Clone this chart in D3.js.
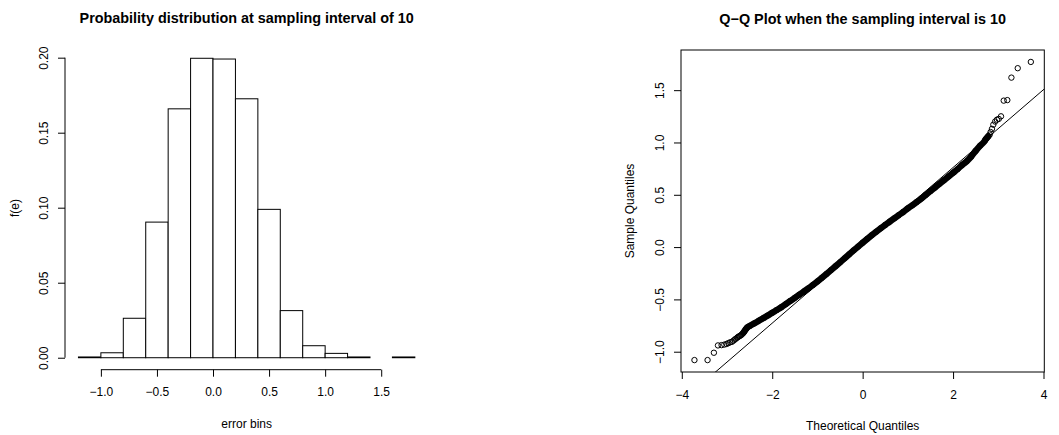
<!DOCTYPE html>
<html><head><meta charset="utf-8">
<script src="https://cdn.jsdelivr.net/npm/d3@7"></script>
<style>
body{margin:0;background:#fff}
svg{display:block}
text{font-family:"Liberation Sans",Arial,Helvetica,sans-serif;fill:#000}
</style>
</head><body>
<svg id="chart" width="1059" height="435"></svg>
<script>
// ---------- Histogram data ----------
const histTitle = "Probability distribution at sampling interval of 10";
const histXLabel = "error bins";
const histYLabel = "f(e)";
const binEdges = [-1.2,-1.0,-0.8,-0.6,-0.4,-0.2,0.0,0.2,0.4,0.6,0.8,1.0,1.2,1.4,1.6,1.8];
const binFreq  = [0.0005,0.0033,0.0263,0.0904,0.1659,0.1996,0.1991,0.1726,0.0989,0.0314,0.0080,0.0029,0.0005,0,0.0005];
const histXTicks = [-1.0,-0.5,0.0,0.5,1.0,1.5];
const histYTicks = [0.00,0.05,0.10,0.15,0.20];

// ---------- Q-Q data ----------
const qqTitle = "Q\u2212Q Plot when the sampling interval is 10";
const qqXLabel = "Theoretical Quantiles";
const qqYLabel = "Sample Quantiles";
const qqTheo = [
 -3.72,-3.43,-3.29,-3.20,-3.12,-3.06,-3.01,-2.97,-2.93,-2.89,-2.86,-2.83,-2.81,-2.78,-2.76,-2.74,-2.72,
 -2.70,-2.68,-2.66,-2.64,-2.62,-2.60,-2.58,-2.55,
 -2.5,-2.4,-2.3,-2.2,-2.1,-2.0,-1.9,-1.8,-1.7,-1.6,-1.5,-1.4,-1.3,-1.2,-1.1,-1.0,-0.9,-0.8,-0.7,-0.6,
 -0.5,-0.4,-0.3,-0.2,-0.1,0.0,0.1,0.2,0.3,0.4,0.5,0.6,0.7,0.8,0.9,1.0,1.1,1.2,1.3,1.4,1.5,1.6,1.7,
 1.8,1.9,2.0,2.1,2.2,2.3,2.4,2.5,2.6,2.7,
 2.72,2.74,2.76,2.78,2.81,2.83,2.86,2.89,2.93,2.97,3.01,3.06,3.12,3.20,3.29,3.43,3.72
];
const qqSample = [
 -1.08,-1.08,-1.01,-0.94,-0.937,-0.932,-0.926,-0.918,-0.91,-0.905,-0.895,-0.885,-0.877,-0.868,-0.86,-0.855,-0.85,
 -0.845,-0.838,-0.83,-0.82,-0.808,-0.795,-0.783,-0.768,
 -0.755,-0.73,-0.705,-0.68,-0.655,-0.628,-0.602,-0.575,-0.545,-0.515,-0.485,-0.455,-0.425,-0.395,-0.362,-0.328,-0.293,-0.257,-0.22,-0.183,
 -0.146,-0.108,-0.07,-0.032,0.005,0.042,0.078,0.113,0.147,0.18,0.212,0.244,0.275,0.306,0.337,0.37,0.40,0.432,0.465,0.50,0.535,0.57,0.605,
 0.64,0.675,0.71,0.745,0.785,0.82,0.865,0.92,0.97,1.015,
 1.03,1.04,1.05,1.06,1.075,1.10,1.13,1.17,1.20,1.218,1.225,1.25,1.40,1.405,1.62,1.71,1.77
];
const qqLineIntercept = 0.017;
const qqLineSlope = 0.372;
const qqXTicks = [-4,-2,0,2,4];
const qqYTicks = [-1.0,-0.5,0.0,0.5,1.0,1.5];
const qqBandRange = [-2.64, 2.80]; // region where points overlap into a solid band

// ---------- Drawing ----------
const svg = d3.select("#chart");
const pad = ext => { const d = (ext[1]-ext[0])*0.04; return [ext[0]-d, ext[1]+d]; };
const f1 = d3.format(".1f"), f2 = d3.format(".2f"), f0 = d3.format("d");

// Left panel
const L = {left:65, right:428.3, top:46.3, bottom:369.7};
const hx = d3.scaleLinear().domain(pad(d3.extent(binEdges))).range([L.left, L.right]);
const hy = d3.scaleLinear().domain(pad([0, d3.max(binFreq)])).range([L.bottom, L.top]);

const gH = svg.append("g");
gH.selectAll("rect.bar")
  .data(binFreq.map((v,i)=>({x0:binEdges[i], x1:binEdges[i+1], v})).filter(d=>d.v>0))
  .join("rect").attr("class","bar")
  .attr("x", d=>hx(d.x0)).attr("width", d=>hx(d.x1)-hx(d.x0))
  .attr("y", d=>hy(d.v)).attr("height", d=>hy(0)-hy(d.v))
  .attr("fill","#fff").attr("stroke","#000").attr("stroke-width",1);

const hxAxis = gH.append("g").attr("transform",`translate(0,${L.bottom})`)
  .call(d3.axisBottom(hx).tickValues(histXTicks).tickFormat(f1).tickSizeInner(7).tickSizeOuter(0).tickPadding(11));
hxAxis.select(".domain").attr("d", `M${hx(histXTicks[0])},0H${hx(histXTicks[histXTicks.length-1])}`);
hxAxis.selectAll("text").attr("font-size",12).attr("font-family","Liberation Sans, Arial, sans-serif");

const hyAxis = gH.append("g").attr("transform",`translate(${L.left},0)`)
  .call(d3.axisLeft(hy).tickValues(histYTicks).tickFormat(f2).tickSizeInner(7).tickSizeOuter(0));
hyAxis.select(".domain").attr("d", `M0,${hy(histYTicks[0])}V${hy(histYTicks[histYTicks.length-1])}`);
hyAxis.selectAll(".tick text").attr("transform","rotate(-90)").attr("x",0).attr("y",-17)
  .attr("dy",0).attr("text-anchor","middle").attr("font-size",12).attr("font-family","Liberation Sans, Arial, sans-serif");

gH.append("text").attr("x",(L.left+L.right)/2).attr("y",22.5).attr("text-anchor","middle")
  .attr("font-size",14.4).attr("font-weight","bold").text(histTitle);
gH.append("text").attr("x",(L.left+L.right)/2).attr("y",428).attr("text-anchor","middle")
  .attr("font-size",12).text(histXLabel);
gH.append("text").attr("transform",`translate(19,${(L.top+L.bottom)/2}) rotate(-90)`).attr("text-anchor","middle")
  .attr("font-size",12).text(histYLabel);

// Right panel
const R = {left:681, right:1044.3, top:50, bottom:372};
const qx = d3.scaleLinear().domain(pad(d3.extent(qqTheo))).range([R.left, R.right]);
const qy = d3.scaleLinear().domain(pad(d3.extent(qqSample))).range([R.bottom, R.top]);
const gQ = svg.append("g");

gQ.append("rect").attr("x",R.left).attr("y",R.top).attr("width",R.right-R.left).attr("height",R.bottom-R.top)
  .attr("fill","none").attr("stroke","#000").attr("stroke-width",1);

svg.append("clipPath").attr("id","qqclip").append("rect")
  .attr("x",R.left).attr("y",R.top).attr("width",R.right-R.left).attr("height",R.bottom-R.top);

const pts = qqTheo.map((t,i)=>({t, s:qqSample[i]}));
const band = pts.filter(d=>d.t>=qqBandRange[0] && d.t<=qqBandRange[1]);
gQ.append("path").datum(band)
  .attr("d", d3.line().x(d=>qx(d.t)).y(d=>qy(d.s)).curve(d3.curveMonotoneX))
  .attr("fill","none").attr("stroke","#000").attr("stroke-width",6.4).attr("stroke-linecap","round");
gQ.selectAll("circle.pt").data(pts).join("circle").attr("class","pt")
  .attr("cx",d=>qx(d.t)).attr("cy",d=>qy(d.s)).attr("r",2.7)
  .attr("fill","none").attr("stroke","#000").attr("stroke-width",1);

const xd = qx.domain();
gQ.append("line").attr("clip-path","url(#qqclip)")
  .attr("x1",qx(xd[0])).attr("y1",qy(qqLineIntercept+qqLineSlope*xd[0]))
  .attr("x2",qx(xd[1])).attr("y2",qy(qqLineIntercept+qqLineSlope*xd[1]))
  .attr("stroke","#000").attr("stroke-width",1);

const qxAxis = gQ.append("g").attr("transform",`translate(0,${R.bottom})`)
  .call(d3.axisBottom(qx).tickValues(qqXTicks).tickFormat(f0).tickSizeInner(7).tickSizeOuter(0).tickPadding(11));
qxAxis.select(".domain").remove();
qxAxis.selectAll("text").attr("font-size",12).attr("font-family","Liberation Sans, Arial, sans-serif");

const qyAxis = gQ.append("g").attr("transform",`translate(${R.left},0)`)
  .call(d3.axisLeft(qy).tickValues(qqYTicks).tickFormat(f1).tickSizeInner(7).tickSizeOuter(0));
qyAxis.select(".domain").remove();
qyAxis.selectAll(".tick text").attr("transform","rotate(-90)").attr("x",0).attr("y",-17)
  .attr("dy",0).attr("text-anchor","middle").attr("font-size",12).attr("font-family","Liberation Sans, Arial, sans-serif");

gQ.append("text").attr("x",(R.left+R.right)/2).attr("y",24).attr("text-anchor","middle")
  .attr("font-size",14.4).attr("font-weight","bold").text(qqTitle);
gQ.append("text").attr("x",(R.left+R.right)/2).attr("y",429.5).attr("text-anchor","middle")
  .attr("font-size",12).text(qqXLabel);
gQ.append("text").attr("transform",`translate(634,${(R.top+R.bottom)/2}) rotate(-90)`).attr("text-anchor","middle")
  .attr("font-size",12).text(qqYLabel);
</script>
</body></html>
